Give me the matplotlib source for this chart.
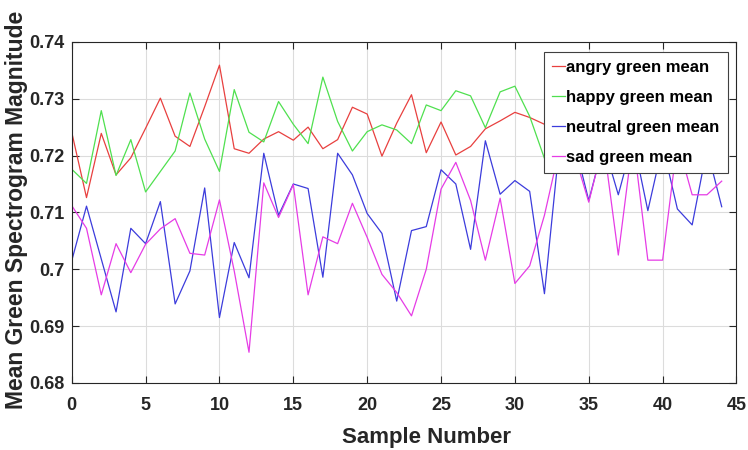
import matplotlib
matplotlib.use("Agg")
import matplotlib.pyplot as plt
import numpy as np

# samples 0..44; values behind the legend are estimates
angry = [0.7241, 0.7126, 0.7239, 0.7166, 0.7196, 0.7248, 0.7301, 0.7234, 0.7216, 0.7286,
         0.7359, 0.7212, 0.7204, 0.7229, 0.7242, 0.7227, 0.7250, 0.7212, 0.7228, 0.7285,
         0.7273, 0.7199, 0.7257, 0.7307, 0.7205, 0.7259, 0.7201, 0.7216, 0.7247, 0.7261,
         0.7276, 0.7267, 0.7255, 0.7245, 0.7262, 0.7238, 0.7270, 0.7251, 0.7283, 0.7244,
         0.7266, 0.7232, 0.7258, 0.7275, 0.7249]
happy = [0.7176, 0.7151, 0.7279, 0.7165, 0.7228, 0.7136, 0.7172, 0.7208, 0.7310, 0.7229,
         0.7172, 0.7316, 0.7241, 0.7224, 0.7295, 0.7255, 0.7221, 0.7338, 0.7260, 0.7208,
         0.7242, 0.7254, 0.7245, 0.7221, 0.7289, 0.7279, 0.7314, 0.7305, 0.7249, 0.7312,
         0.7322, 0.7269, 0.7195, 0.7236, 0.7221, 0.7258, 0.7240, 0.7229, 0.7262, 0.7218,
         0.7247, 0.7233, 0.7255, 0.7226, 0.7241]
neutral = [0.7015, 0.7111, 0.7018, 0.6925, 0.7072, 0.7045, 0.7119, 0.6939, 0.6997, 0.7143,
           0.6915, 0.7047, 0.6985, 0.7204, 0.7095, 0.7150, 0.7142, 0.6986, 0.7204, 0.7166,
           0.7098, 0.7063, 0.6944, 0.7068, 0.7075, 0.7175, 0.7150, 0.7035, 0.7226, 0.7132,
           0.7156, 0.7137, 0.6957, 0.7215, 0.7225, 0.7121, 0.7220, 0.7131, 0.7228, 0.7103,
           0.7218, 0.7106, 0.7078, 0.7212, 0.7110]
sad = [0.7112, 0.7072, 0.6955, 0.7045, 0.6994, 0.7044, 0.7071, 0.7089, 0.7028, 0.7025,
       0.7122, 0.6997, 0.6854, 0.7152, 0.7091, 0.7149, 0.6955, 0.7057, 0.7045, 0.7116,
       0.7056, 0.6991, 0.6959, 0.6918, 0.7000, 0.7141, 0.7188, 0.7121, 0.7016, 0.7125,
       0.6975, 0.7006, 0.7095, 0.7210, 0.7205, 0.7118, 0.7222, 0.7025, 0.7230, 0.7016,
       0.7016, 0.7225, 0.7131, 0.7131, 0.7155]
labels = ['angry green mean', 'happy green mean', 'neutral green mean', 'sad green mean']
xticks = [0, 5, 10, 15, 20, 25, 30, 35, 40, 45]
yticks = [0.68, 0.69, 0.70, 0.71, 0.72, 0.73, 0.74]
ytick_labels = ['0.68', '0.69', '0.7', '0.71', '0.72', '0.73', '0.74']

plt.rcParams['font.family'] = ['Liberation Sans', 'DejaVu Sans']
plt.rcParams['font.weight'] = 'bold'

fig = plt.figure(figsize=(7.48, 4.5), dpi=100)
ax = fig.add_axes([0.0959, 0.149, 0.8887, 0.758])

x = np.arange(len(angry))
colors = ['#e8403f', '#4fe04f', '#3c3cdc', '#e63ce6']
for ys, c, lab in zip([angry, happy, neutral, sad], colors, labels):
    ax.plot(x, ys, color=c, linewidth=0.9, label=lab)

ax.set_xlim(0, 45)
ax.set_ylim(0.68, 0.74)
ax.set_xticks(xticks)
ax.set_yticks(yticks)
ax.set_yticklabels(ytick_labels)
ax.grid(True, color='#dcdcdc', linewidth=0.8)
ax.set_axisbelow(True)
ax.tick_params(direction='in', top=True, right=True, length=5, labelsize=13, colors='#262626')
ax.tick_params(axis='x', pad=10)
ax.tick_params(axis='y', pad=5)
for lab in ax.get_xticklabels() + ax.get_yticklabels():
    lab.set_fontweight('bold')
for s in ax.spines.values():
    s.set_color('#262626')
    s.set_linewidth(0.8)

ax.set_xlabel('Sample Number', fontsize=16, fontweight='bold', color='#262626')
ax.set_ylabel('Mean Green Spectrogram Magnitude', fontsize=16.5, fontweight='bold', color='#262626')
ax.xaxis.set_label_coords(0.533, -0.129)
ax.yaxis.set_label_coords(-0.066, 0.507)

leg = ax.legend(loc='upper right', bbox_to_anchor=(0.987, 0.971), borderaxespad=0,
                fontsize=12, handlelength=0.75, handletextpad=0.1, labelspacing=0.9,
                borderpad=0.5, fancybox=False, framealpha=1, edgecolor='#404040')
leg.get_frame().set_linewidth(0.8)
for t in leg.get_texts():
    t.set_fontweight('bold')

fig.savefig('out.png', dpi=100)
